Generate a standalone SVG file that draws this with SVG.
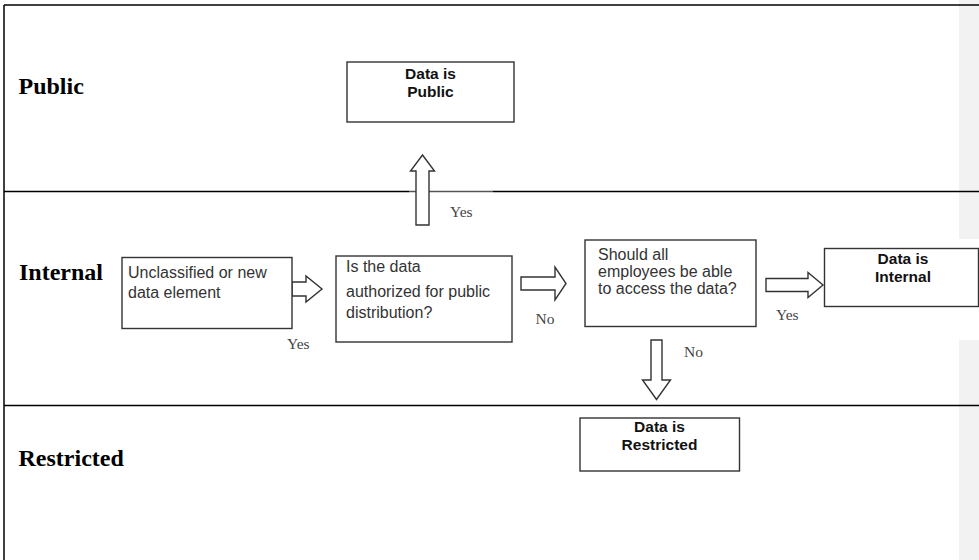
<svg xmlns="http://www.w3.org/2000/svg" width="979" height="560" viewBox="0 0 979 560">
<style>
.lane{font-family:"Liberation Serif","Times New Roman",serif;font-weight:bold;font-size:24px;fill:#000}
.box{fill:#fff;stroke:#333;stroke-width:1.4}
.t{font-family:"Liberation Sans",Arial,sans-serif;font-size:16px;fill:#333}
.b{font-family:"Liberation Sans",Arial,sans-serif;font-size:15.5px;font-weight:bold;fill:#111;text-anchor:middle}
.lbl{font-family:"Liberation Serif","Times New Roman",serif;font-size:15.5px;fill:#444}
.arr{fill:#fff;stroke:#333;stroke-width:1.4;stroke-linejoin:miter}
.frame{stroke:#000;stroke-width:1.5;fill:none}
</style>
<rect x="0" y="0" width="979" height="560" fill="#fff"/>
<rect x="959" y="0" width="20" height="560" fill="#f2f2f2"/>
<rect x="958" y="239" width="21" height="101" fill="#fff"/>
<g id="frame">
<line class="frame" x1="4" y1="5" x2="979" y2="5"/>
<line class="frame" x1="4" y1="5" x2="4" y2="560"/>
<line class="frame" x1="4" y1="191.5" x2="409" y2="191.5"/>
<line x1="409" y1="191.5" x2="493" y2="191.5" stroke="#555" stroke-width="1.5"/>
<line class="frame" x1="493" y1="191.5" x2="979" y2="191.5"/>
<line class="frame" x1="4" y1="405.5" x2="979" y2="405.5"/>
</g>
<g id="lanes">
<text class="lane" x="18.5" y="93.5">Public</text>
<text class="lane" x="19" y="280">Internal</text>
<text class="lane" x="18.5" y="466">Restricted</text>
</g>
<g id="connectors">
<path class="arr" d="M292,282 H306 V276 L322,289 L306,302 V296 H292 Z"/>
<text class="lbl" x="287" y="349">Yes</text>
<path class="arr" d="M416,225 V171 H410.5 L422.5,155 L434.5,171 H429 V225 Z"/>
<text class="lbl" x="450" y="216.5">Yes</text>
<path class="arr" d="M521,277 H555 V267 L566,283.5 L555,300 V290 H521 Z"/>
<text class="lbl" x="535.5" y="324">No</text>
<path class="arr" d="M766,278.5 H808 V272.5 L823,285 L808,297.5 V291.5 H766 Z"/>
<text class="lbl" x="776" y="319.5">Yes</text>
<path class="arr" d="M651,340 V380 H642.5 L656.5,399.5 L670.5,380 H662 V340 Z"/>
<text class="lbl" x="684" y="357">No</text>
</g>
<g id="n-start">
<rect class="box" x="122" y="257.5" width="170" height="71"/>
<text class="t" x="128" y="278">Unclassified or new</text>
<text class="t" x="128" y="298">data element</text>
</g>
<g id="n-public-q">
<rect class="box" x="336" y="256" width="176" height="86"/>
<text class="t" x="346" y="272">Is the data</text>
<text class="t" x="346" y="297">authorized for public</text>
<text class="t" x="346" y="318">distribution?</text>
</g>
<g id="n-employees-q">
<rect class="box" x="585" y="240" width="171" height="86.5"/>
<text class="t" x="598" y="259.5">Should all</text>
<text class="t" x="598" y="276.5">employees be able</text>
<text class="t" x="598" y="293.5">to access the data?</text>
</g>
<g id="n-public">
<rect class="box" x="347" y="62" width="167" height="60" stroke-width="1.8"/>
<text class="b" x="430.5" y="78.5">Data is</text>
<text class="b" x="430.5" y="97">Public</text>
</g>
<g id="n-internal">
<rect class="box" x="824.5" y="248.5" width="154" height="58"/>
<text class="b" x="903" y="263.5">Data is</text>
<text class="b" x="903" y="282">Internal</text>
</g>
<g id="n-restricted">
<rect class="box" x="580" y="418" width="159.5" height="53" stroke-width="1.8"/>
<text class="b" x="659.5" y="431.5">Data is</text>
<text class="b" x="659.5" y="450">Restricted</text>
</g>
</svg>
